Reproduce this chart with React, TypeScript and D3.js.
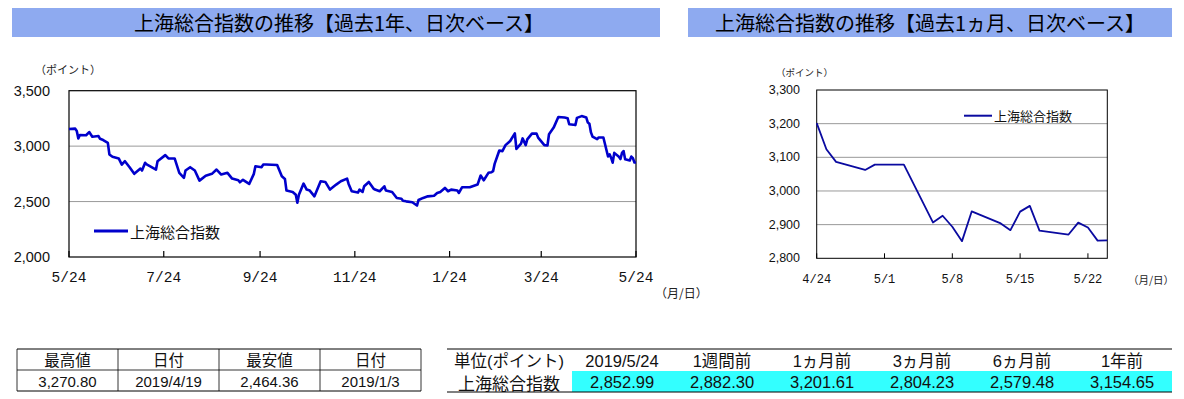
import * as d3 from 'd3';

const parse = d3.timeParse('%Y-%m-%d');

// daily closes (up to the day before the 1-month window)
const yearDates = [
  '2018-05-24', '2018-05-28', '2018-05-29', '2018-05-30', '2018-05-31', '2018-06-04', '2018-06-06', '2018-06-08',
  '2018-06-12', '2018-06-13', '2018-06-15', '2018-06-18', '2018-06-19', '2018-06-21', '2018-06-25', '2018-06-27',
  '2018-06-29', '2018-07-02', '2018-07-05', '2018-07-09', '2018-07-10', '2018-07-12', '2018-07-13', '2018-07-19',
  '2018-07-20', '2018-07-25', '2018-07-27', '2018-07-31', '2018-08-03', '2018-08-06', '2018-08-07', '2018-08-10',
  '2018-08-13', '2018-08-16', '2018-08-20', '2018-08-24', '2018-08-27', '2018-08-30', '2018-09-03', '2018-09-06',
  '2018-09-10', '2018-09-11', '2018-09-13', '2018-09-17', '2018-09-20', '2018-09-21', '2018-09-25', '2018-09-26',
  '2018-09-28', '2018-10-05', '2018-10-08', '2018-10-10', '2018-10-11', '2018-10-15', '2018-10-17', '2018-10-18',
  '2018-10-19', '2018-10-22', '2018-10-24', '2018-10-26', '2018-10-29', '2018-11-02', '2018-11-05', '2018-11-08',
  '2018-11-12', '2018-11-15', '2018-11-19', '2018-11-20', '2018-11-22', '2018-11-26', '2018-11-27', '2018-11-29',
  '2018-11-30', '2018-12-03', '2018-12-06', '2018-12-07', '2018-12-10', '2018-12-13', '2018-12-14', '2018-12-18',
  '2018-12-21', '2018-12-24', '2018-12-25', '2018-12-27', '2018-12-31', '2019-01-03', '2019-01-04', '2019-01-07',
  '2019-01-10', '2019-01-14', '2019-01-16', '2019-01-18', '2019-01-21', '2019-01-23', '2019-01-25', '2019-01-29',
  '2019-01-30', '2019-02-01', '2019-02-06', '2019-02-11', '2019-02-13', '2019-02-15', '2019-02-18', '2019-02-20',
  '2019-02-21', '2019-02-22', '2019-02-25', '2019-02-27', '2019-03-01', '2019-03-04', '2019-03-07', '2019-03-08',
  '2019-03-11', '2019-03-12', '2019-03-14', '2019-03-15', '2019-03-18', '2019-03-21', '2019-03-22', '2019-03-26',
  '2019-03-28', '2019-03-29', '2019-04-01', '2019-04-04', '2019-04-08', '2019-04-10', '2019-04-11', '2019-04-15',
  '2019-04-16', '2019-04-19', '2019-04-22', '2019-04-23',
];
const yearValues = [
  3155, 3158, 3137, 3070, 3100, 3098, 3127, 3085,
  3091, 3066, 3055, 3030, 2925, 2904, 2889, 2834,
  2864, 2810, 2750, 2798, 2780, 2850, 2835, 2789,
  2864, 2919, 2889, 2889, 2759, 2714, 2780, 2810,
  2780, 2689, 2733, 2750, 2789, 2744, 2759, 2707,
  2692, 2674, 2696, 2659, 2750, 2819, 2810, 2834,
  2834, 2830, 2728, 2704, 2599, 2587, 2562, 2490,
  2562, 2662, 2608, 2599, 2547, 2683, 2677, 2608,
  2653, 2683, 2707, 2659, 2593, 2581, 2608, 2587,
  2638, 2677, 2617, 2608, 2593, 2638, 2599, 2587,
  2532, 2526, 2508, 2502, 2494, 2464, 2514, 2533,
  2547, 2553, 2578, 2587, 2623, 2593, 2608, 2599,
  2578, 2629, 2629, 2653, 2735, 2692, 2759, 2765,
  2774, 2840, 2961, 2955, 3009, 3046, 3115, 2975,
  3022, 3070, 3009, 3061, 3113, 3113, 3077, 3009,
  3006, 3107, 3167, 3263, 3258, 3251, 3197, 3190,
  3255, 3270.8, 3258, 3213,
];

// last month
const monthDates = [
  '2019-04-24', '2019-04-25', '2019-04-26', '2019-04-29', '2019-04-30', '2019-05-03', '2019-05-06',
  '2019-05-07', '2019-05-08', '2019-05-09', '2019-05-10', '2019-05-13', '2019-05-14', '2019-05-15',
  '2019-05-16', '2019-05-17', '2019-05-20', '2019-05-21', '2019-05-22', '2019-05-23', '2019-05-24',
];
const monthValues = [
  3201.61, 3123.83, 3086.4, 3062.5, 3078.34, 3078.34, 2906.46,
  2926.39, 2893.76, 2850.95, 2939.21, 2903.71, 2883.61, 2938.65,
  2955.71, 2882.3, 2870.6, 2905.97, 2891.7, 2852.52, 2852.99,
];

const yearTicks = ['2018-05-24', '2018-07-24', '2018-09-24', '2018-11-24', '2019-01-24', '2019-03-24', '2019-05-24'];
const monthTicks = ['2019-04-24', '2019-05-01', '2019-05-08', '2019-05-15', '2019-05-22'];
const yearYTicks = [2000, 2500, 3000, 3500];
const monthYTicks = [2800, 2900, 3000, 3100, 3200, 3300];

const statsHead = ['最高値', '日付', '最安値', '日付'];
const statsVals = ['3,270.80', '2019/4/19', '2,464.36', '2019/1/3'];
const cmpHead = ['単位(ポイント)', '2019/5/24', '1週間前', '1ヵ月前', '3ヵ月前', '6ヵ月前', '1年前'];
const cmpLabel = '上海総合指数';
const cmpVals = [2852.99, 2882.3, 3201.61, 2804.23, 2579.48, 3154.65];

const JP = '"Noto Sans CJK JP", "Noto Sans", sans-serif';
const NUM = '"Liberation Sans", Arial, "Noto Sans CJK JP", sans-serif';
const MONO = '"Liberation Mono", "DejaVu Sans Mono", monospace';
const BAND = '#8eaaf0';
const BLUE = '#0000cc';
const NAVY = '#0a0aa0';
const GRID = '#999';

type Pt = { date: Date; value: number };

const toPoints = (dates: string[], values: number[]): Pt[] =>
  dates.map((d, i) => ({ date: parse(d)!, value: values[i] }));

const yearSeries = [...toPoints(yearDates, yearValues), ...toPoints(monthDates, monthValues)];
const monthSeries = toPoints(monthDates, monthValues);
const fmtDay = d3.timeFormat('%-m/%-d');
const fmtComma = d3.format(',');

function YearChart() {
  const L = 69, R = 636, T = 90.7, B = 257;
  const ticks = yearTicks.map((t) => parse(t)!);
  const x = d3.scaleTime().domain([ticks[0], ticks[ticks.length - 1]]).range([L, R]);
  const y = d3.scaleLinear().domain([2000, 3500]).range([B, T]);
  const line = d3.line<Pt>().x((d) => x(d.date)).y((d) => y(d.value));

  return (
    <g>
      <rect x={12} y={8} width={648} height={29} fill={BAND} />
      <text x={339} y={22.5} textAnchor="middle" dominantBaseline="central" fontFamily={JP} fontSize={20} fill="#000">
        上海総合指数の推移【過去1年、日次ベース】
      </text>
      <text x={35} y={69} dominantBaseline="central" fontFamily={JP} fontSize={11} fill="#222">（ポイント）</text>

      {yearYTicks.filter((v) => v > 2000 && v < 3500).map((v) => (
        <line key={v} x1={L} x2={R} y1={y(v)} y2={y(v)} stroke={GRID} strokeWidth={1} />
      ))}
      <rect x={L} y={T} width={R - L} height={B - T} fill="none" stroke="#000" strokeWidth={1.2} />

      {yearYTicks.map((v) => (
        <text key={v} x={50} y={y(v)} textAnchor="end" dominantBaseline="central" fontFamily={NUM} fontSize={14.5} fill="#111">
          {fmtComma(v)}
        </text>
      ))}
      {ticks.map((t, i) => (
        <g key={i}>
          <line x1={x(t)} x2={x(t)} y1={B} y2={B - 6} stroke="#000" strokeWidth={1.2} />
          <text x={x(t)} y={278} textAnchor="middle" dominantBaseline="central" fontFamily={MONO} fontSize={14.5} fill="#111">
            {fmtDay(t)}
          </text>
        </g>
      ))}
      <text x={655} y={292.5} dominantBaseline="central" fontFamily={JP} fontSize={12} fill="#222">（月/日）</text>

      <path d={line(yearSeries) ?? ''} fill="none" stroke={BLUE} strokeWidth={2.6} strokeLinejoin="round" />

      <line x1={94} x2={128} y1={231} y2={231} stroke={BLUE} strokeWidth={3} />
      <text x={130} y={231} dominantBaseline="central" fontFamily={JP} fontSize={15} fill="#111">上海総合指数</text>
    </g>
  );
}

function MonthChart() {
  const L = 816.7, R = 1107.3, T = 90, B = 258.3;
  const ticks = monthTicks.map((t) => parse(t)!);
  const x = d3.scaleTime().domain([ticks[0], parse('2019-05-24')!]).range([L, R]);
  const y = d3.scaleLinear().domain([2800, 3300]).range([B, T]);
  const line = d3.line<Pt>().x((d) => x(d.date)).y((d) => y(d.value));

  return (
    <g>
      <rect x={688} y={8} width={484} height={29} fill={BAND} />
      <text x={930} y={22.5} textAnchor="middle" dominantBaseline="central" fontFamily={JP} fontSize={20} fill="#000">
        上海総合指数の推移【過去1ヵ月、日次ベース】
      </text>
      <text x={776} y={71.5} dominantBaseline="central" fontFamily={JP} fontSize={9.5} fill="#222">（ポイント）</text>

      {monthYTicks.filter((v) => v > 2800 && v < 3300).map((v) => (
        <line key={v} x1={L} x2={R} y1={y(v)} y2={y(v)} stroke={GRID} strokeWidth={1} />
      ))}
      <rect x={L} y={T} width={R - L} height={B - T} fill="none" stroke="#000" strokeWidth={1} />

      {monthYTicks.map((v) => (
        <text key={v} x={800} y={y(v)} textAnchor="end" dominantBaseline="central" fontFamily={NUM} fontSize={12.5} fill="#111">
          {fmtComma(v)}
        </text>
      ))}
      {ticks.map((t, i) => (
        <g key={i}>
          <line x1={x(t)} x2={x(t)} y1={B} y2={B - 5} stroke="#000" strokeWidth={1} />
          <text x={x(t)} y={279.5} textAnchor="middle" dominantBaseline="central" fontFamily={MONO} fontSize={12} fill="#111">
            {fmtDay(t)}
          </text>
        </g>
      ))}
      <text x={1128} y={279.5} dominantBaseline="central" fontFamily={JP} fontSize={10.5} fill="#222">（月/日）</text>

      <path d={line(monthSeries) ?? ''} fill="none" stroke={NAVY} strokeWidth={1.8} strokeLinejoin="round" />

      <line x1={964} x2={992} y1={115.7} y2={115.7} stroke={NAVY} strokeWidth={2} />
      <text x={994} y={115.7} dominantBaseline="central" fontFamily={JP} fontSize={13} fill="#111">上海総合指数</text>
    </g>
  );
}

function Tables() {
  // high / low table
  const sx = d3.scaleBand<number>().domain(d3.range(statsHead.length)).range([17, 421]);
  const top = 349, mid = 370, bot = 391;
  // comparison table
  const cx = d3.scaleBand<number>().domain(d3.range(cmpVals.length)).range([572, 1172]);
  const cTop = 349, cMid = 371, cBot = 392;

  return (
    <g>
      <line x1={17} x2={421} y1={top} y2={top} stroke="#000" />
      <line x1={17} x2={421} y1={mid} y2={mid} stroke="#000" strokeWidth={0.8} />
      <line x1={17} x2={421} y1={bot} y2={bot} stroke="#000" />
      {d3.range(statsHead.length + 1).map((i) => {
        const xx = i < statsHead.length ? sx(i)! : 421;
        return <line key={i} x1={xx} x2={xx} y1={top} y2={bot} stroke="#000" strokeWidth={0.8} />;
      })}
      {statsHead.map((h, i) => (
        <text key={'h' + i} x={sx(i)! + sx.bandwidth() / 2} y={(top + mid) / 2 + 0.5} textAnchor="middle" dominantBaseline="central" fontFamily={NUM} fontSize={15.5} fill="#111">
          {h}
        </text>
      ))}
      {statsVals.map((v, i) => (
        <text key={'v' + i} x={sx(i)! + sx.bandwidth() / 2} y={(mid + bot) / 2 + 0.5} textAnchor="middle" dominantBaseline="central" fontFamily={NUM} fontSize={15} fill="#111">
          {v}
        </text>
      ))}

      <rect x={572} y={cMid} width={600} height={cBot - cMid} fill="#33ffff" />
      <line x1={447} x2={1172} y1={cTop} y2={cTop} stroke="#000" />
      <line x1={447} x2={1172} y1={cBot} y2={cBot} stroke="#000" />
      {cmpHead.map((h, i) => (
        <text key={'c' + i} x={i === 0 ? 509 : cx(i - 1)! + cx.bandwidth() / 2} y={(cTop + cMid) / 2 + 0.5} textAnchor="middle" dominantBaseline="central" fontFamily={NUM} fontSize={16.5} fill="#111">
          {h}
        </text>
      ))}
      <text x={509} y={(cMid + cBot) / 2 + 0.5} textAnchor="middle" dominantBaseline="central" fontFamily={JP} fontSize={17} fill="#111">
        {cmpLabel}
      </text>
      {cmpVals.map((v, i) => (
        <text key={'d' + i} x={cx(i)! + cx.bandwidth() / 2} y={(cMid + cBot) / 2 + 0.5} textAnchor="middle" dominantBaseline="central" fontFamily={NUM} fontSize={16.5} fill="#111">
          {d3.format(',.2f')(v)}
        </text>
      ))}
    </g>
  );
}

export default function App() {
  return (
    <svg
      width={1184}
      height={399}
      viewBox="0 0 1184 399"
      style={{ position: 'absolute', left: 0, top: 0, background: '#fff' }}
    >
      <YearChart />
      <MonthChart />
      <Tables />
    </svg>
  );
}
